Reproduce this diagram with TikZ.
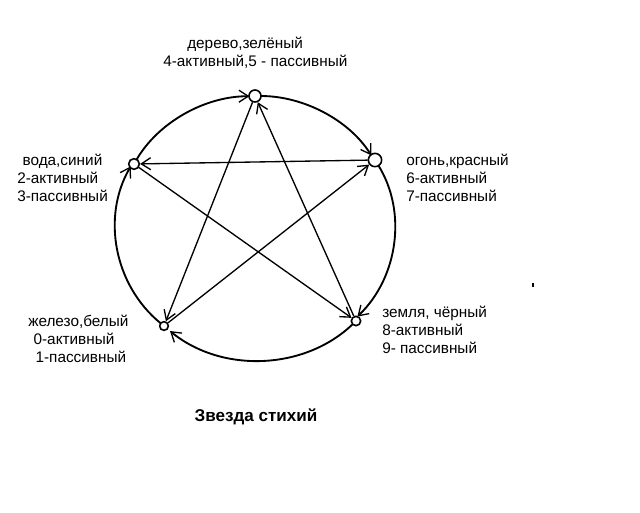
\documentclass[tikz,border=0pt]{standalone}
\usepackage{fontspec}
\setmainfont{Liberation Sans}
\usetikzlibrary{arrows.meta}
\begin{document}
\begin{tikzpicture}[x=0.75pt,y=-0.75pt,
  elem/.style={draw, circle, line width=1.2pt, inner sep=0pt},
  rim/.style={line width=1.4pt, -{Straight Barb[length=7pt,width=9pt,line width=1pt]}},
  ray/.style={line width=1pt, -{Straight Barb[length=7pt,width=9pt]}},
  lbl/.style={anchor=base west, align=left, inner sep=0pt, font=\fontsize{11.5}{13.2}\selectfont},
]
\fill[white] (0,0) rectangle (640,512);
\useasboundingbox (0,0) rectangle (640,512);

% elements
\node[elem, minimum size=9pt]   (der)  at (255,96)  {};
\node[elem, minimum size=10pt]  (ogon) at (375,160) {};
\node[elem, minimum size=7pt]   (zem)  at (356,321) {};
\node[elem, minimum size=6.5pt] (zhel) at (164,326) {};
\node[elem, minimum size=8pt]   (voda) at (134,164) {};

% outer circle (generating cycle)
\draw[rim, shorten <=4.5pt, shorten >=5pt] (der.center)  arc[start angle=270,   end angle=329.5, x radius=139, y radius=132];
\draw[rim, shorten <=5pt,   shorten >=3.5pt] (ogon.center) arc[start angle=329.5, end angle=404.7, x radius=139, y radius=132];
\draw[rim, shorten <=3.5pt, shorten >=3.5pt] (zem.center)  arc[start angle=44.7,  end angle=130.8, x radius=139, y radius=132];
\draw[rim, shorten <=3.5pt, shorten >=4pt] (zhel.center) arc[start angle=130.8, end angle=209.1, x radius=139, y radius=132];
\draw[rim, shorten <=4pt,   shorten >=4.5pt] (voda.center) arc[start angle=209.1, end angle=270,   x radius=139, y radius=132];

% star (controlling cycle)
\draw[ray] (der)  -- (zhel);
\draw[ray] (zhel) -- (ogon);
\draw[ray] (ogon) -- (voda);
\draw[ray] (voda) -- (zem);
\draw[ray] (zem)  -- (der);

% labels (base = baseline of the last line)
\node[lbl] (tder)  at (163,66)  {\hspace*{18pt}дерево,зелёный\\4-активный,5 - пассивный};
\node[lbl] (tvoda) at (17,201)  {\hspace*{4pt}вода,синий\\2-активный\\3-пассивный};
\node[lbl] (togon) at (406,201) {огонь,красный\\6-активный\\7-пассивный};
\node[lbl] (tzhel) at (28,362)  {железо,белый\\\hspace*{4pt}0-активный\\\hspace*{5.5pt}1-пассивный};
\node[lbl] (tzem)  at (382,353) {земля, чёрный\\8-активный\\9- пассивный};
\node[font=\fontsize{12.8}{14}\selectfont\bfseries] (title) at (256,417) {Звезда стихий};

% stray mark
\draw[line width=0.8pt] (533,283) -- (533,287);
\end{tikzpicture}
\end{document}
